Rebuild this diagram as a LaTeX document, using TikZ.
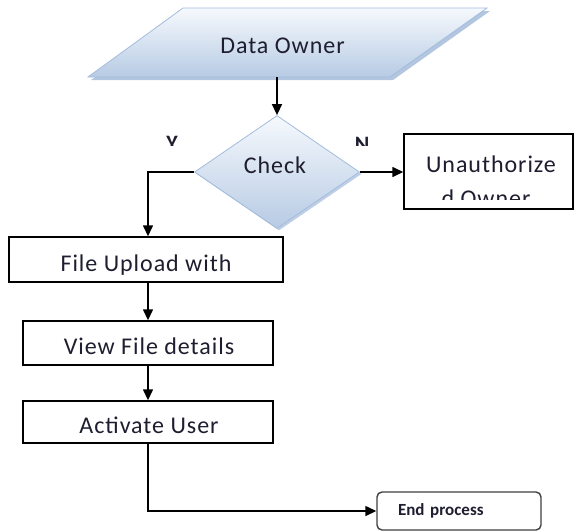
\documentclass[tikz,border=0pt]{standalone}
\usepackage{fontspec}
\setmainfont{Carlito}
\newfontfamily\flowfont[LetterSpace=4]{Carlito}
\usetikzlibrary{shapes.geometric,arrows.meta,shadows}
\definecolor{inktext}{HTML}{1E1E30}
\definecolor{paletop}{HTML}{F6F9FD}
\definecolor{palebot}{HTML}{B7CBE4}
\definecolor{paleedge}{HTML}{A3BCDD}
\definecolor{paleshade}{HTML}{93AED3}
\tikzset{
  x=1pt, y=-1pt,
  flow/.style={line width=1.4pt, draw=black},
  flowarrow/.style={flow, -{Triangle[length=11pt,width=10pt]}},
  paleshape/.style={draw=paleedge, line width=0.8pt,
    top color=paletop, bottom color=palebot},
  paleshadow/.style={fill=paleshade, opacity=0.7},
  decision/.style={diamond, minimum width=165pt, minimum height=113pt, aspect=1.46,
    inner sep=0pt, paleshape,
    drop shadow={shadow xshift=2pt, shadow yshift=-2pt, fill=paleshade, opacity=0.6}},
  stepbox/.style={draw=black, line width=1.4pt, fill=white, inner sep=0pt},
  boxtext/.style={font=\flowfont\fontsize{24}{28}\selectfont, text=inktext, inner sep=0pt},
  branchtext/.style={font=\bfseries\fontsize{22}{26}\selectfont, text=inktext, inner sep=0pt},
  endbox/.style={draw=black!75, line width=1.4pt, rounded corners=5pt, fill=white,
    minimum width=164pt, minimum height=38pt, text width=122pt, align=left,
    inner xsep=21pt, inner ysep=0pt,
    font=\bfseries\fontsize{17}{20}\selectfont, text=inktext}
}
\begin{document}
\begin{tikzpicture}
\useasboundingbox (0,0) rectangle (575,531);

% input parallelogram with its shadow
\coordinate (otl) at (183,8);
\coordinate (otr) at (487,8);
\coordinate (obr) at (390,77);
\coordinate (obl) at (88,77);
\fill[paleshadow] ([shift={(3,3)}]otl) -- ([shift={(3,3)}]otr)
  -- ([shift={(3,3)}]obr) -- ([shift={(3,3)}]obl) -- cycle;
\path[paleshape] (otl) -- (otr) -- (obr) -- (obl) -- cycle;
\node[boxtext] (owner) at (282.5,46) {Data Owner};
\coordinate (ownerfoot) at (277,77);

% decision
\node[decision] (check) at (277,172) {};
\node[boxtext] (checktext) at (275,165) {Check};

% branch labels, cut off at the bottom
\begin{scope}
  \clip (150,125) rectangle (200,145);
  \node[branchtext, anchor=north] (ylabel) at (172,136) {Y};
\end{scope}
\begin{scope}
  \clip (340,125) rectangle (390,145);
  \node[branchtext, anchor=north] (nlabel) at (362,137) {N};
\end{scope}

% rejection box with its clipped text
\node[stepbox, minimum width=169pt, minimum height=75pt] (unauth) at (488.5,171.5) {};
\node[boxtext, anchor=base] (unauthtext) at (491,172) {Unauthorize};
\begin{scope}
  \clip (405,180) rectangle (572,199);
  \node[boxtext, anchor=base] (unauthtail) at (486,206) {d Owner};
\end{scope}

% main sequence
\node[stepbox, minimum width=274pt, minimum height=45pt] (upload) at (146,259.5) {};
\begin{scope}
  \clip (10,238) rectangle (282,274);
  \node[boxtext, anchor=base] (uploadtext) at (146,271.5) {File Upload with};
\end{scope}
\node[stepbox, minimum width=250pt, minimum height=44pt] (view) at (148,343) {};
\node[boxtext, anchor=base] (viewtext) at (149,354) {View File details};
\node[stepbox, minimum width=250pt, minimum height=42pt] (activate) at (148,422) {};
\node[boxtext, anchor=base] (activatetext) at (149,433) {Activate User};
\node[endbox] (finish) at (459,511) {End process};

% connectors
\draw[flowarrow] (ownerfoot) -- (check.north);
\draw[flowarrow] (check.east) -- (check.east -| unauth.west);
\draw[flowarrow] (check.west) -| ([xshift=2pt]upload.north);
\draw[flowarrow] ([xshift=2pt]upload.south) -- (view.north);
\draw[flowarrow] (view.south) -- (activate.north);
\draw[flowarrow] (activate.south) |- (finish.west);
\end{tikzpicture}
\end{document}
